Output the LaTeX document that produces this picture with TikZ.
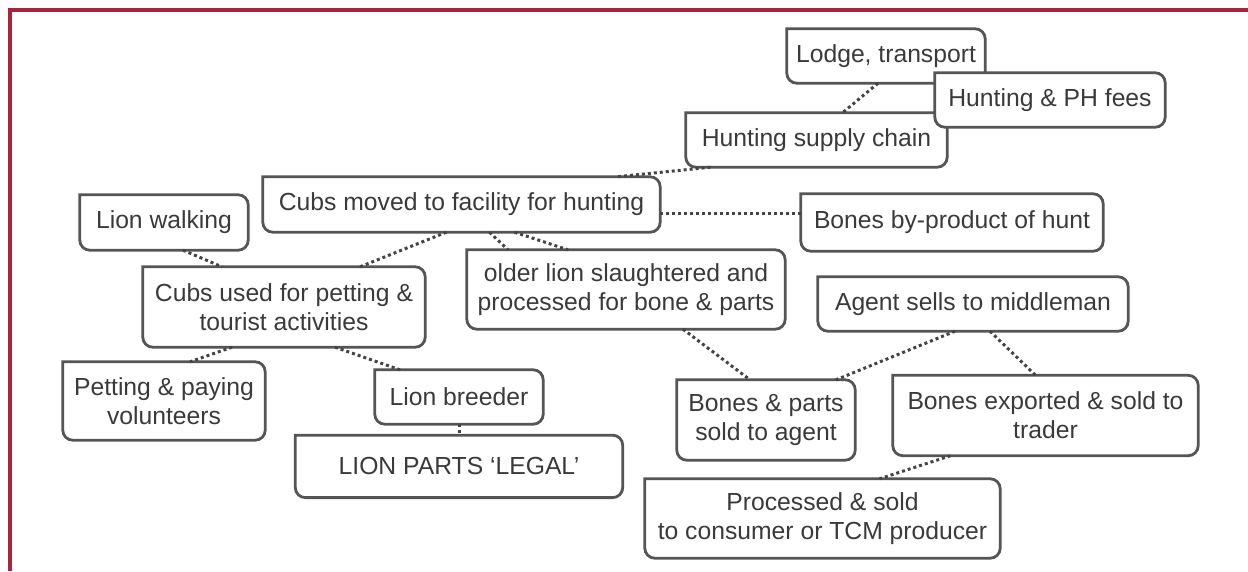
\documentclass[tikz,border=0pt]{standalone}
\usepackage{fontspec}
\setmainfont{Liberation Sans}
\usetikzlibrary{positioning, backgrounds}
\definecolor{framered}{HTML}{A8243A}
\definecolor{boxgray}{HTML}{555555}
\definecolor{txtgray}{HTML}{3A3A3A}
\definecolor{dotgray}{HTML}{444444}
\tikzset{
  box/.style      = {align=center, inner sep=0pt, text=txtgray,
                     font=\fontsize{24.7}{29}\selectfont},
  boxline/.style  = {draw=boxgray, fill=white, line width=2.8pt},
  link/.style     = {draw=dotgray, line width=3pt, dash pattern=on 3pt off 3pt},
  redframe/.style = {draw=framered, line width=4pt}
}

\begin{document}
\begin{tikzpicture}[x=1pt, y=-1pt]
  \useasboundingbox (0,0) rectangle (1248,571);
  \draw[redframe] (10,571) -- (10,10) -- (1248,10);

  \node[box, minimum width=198pt, minimum height=54pt] (lodge)      at (886,56)      {Lodge, transport};
  \node[box, minimum width=261pt, minimum height=54pt] (supply)     at (816.5,140)   {Hunting supply chain};
  \node[box, minimum width=230pt, minimum height=54pt] (fees)       at (1050,100)    {Hunting \& PH fees};
  \node[box, minimum width=397pt, minimum height=55pt] (facility)   at (461.5,204.5) {Cubs moved to facility for hunting};
  \node[box, minimum width=168pt, minimum height=55pt] (walking)    at (164,222.5)   {Lion walking};
  \node[box, minimum width=302pt, minimum height=57pt] (byproduct)  at (952,222.5)   {Bones by-product of hunt};
  \node[box, minimum width=282pt, minimum height=80pt] (petting)    at (284,307)     {Cubs used for petting \&\\tourist activities};
  \node[box, minimum width=202pt, minimum height=78pt] (volunteers) at (164,401)     {Petting \& paying\\volunteers};
  \node[box, minimum width=168pt, minimum height=54pt] (breeder)    at (459,397)     {Lion breeder};
  \node[box, minimum width=327pt, minimum height=62pt, below=11pt of breeder] (legal) {LION PARTS `LEGAL'};
  \node[box, minimum width=318pt, minimum height=79pt] (slaughter)  at (626,289.5)   {older lion slaughtered and\\processed for bone \& parts};
  \node[box, minimum width=310pt, minimum height=54pt] (agent)      at (973,304)     {Agent sells to middleman};
  \node[box, minimum width=178pt, minimum height=80pt] (parts)      at (766,420)     {Bones \& parts\\sold to agent};
  \node[box, minimum width=305pt, minimum height=80pt] (exported)   at (1045.5,415.5) {Bones exported \& sold to\\trader};
  \node[box, minimum width=355pt, minimum height=79pt] (processed)  at (822.5,518.5) {Processed \& sold\\to consumer or TCM producer};

  % outlines: square top-left corner, the rest rounded
  \begin{scope}[on background layer]
    \foreach \n in {lodge, supply, fees, facility, walking, byproduct, petting,
                    volunteers, breeder, legal, slaughter, agent, parts, exported, processed}
      \path[boxline] (\n.north) [rounded corners=10pt] -- (\n.north east) -- (\n.south east)
        -- (\n.south west) [sharp corners] -- (\n.north west) -- cycle;
  \end{scope}

  \draw[link] ([xshift=-8pt]lodge.south)     -- ([xshift=26pt]supply.north);
  \draw[link] ([xshift=-106pt]supply.south)  -- ([xshift=155pt]facility.north);
  \draw[link] ([yshift=-8.5pt]facility.east) -- ([yshift=9.5pt]byproduct.west);
  \draw[link] ([xshift=-15pt]facility.south) -- ([xshift=76pt]petting.north);
  \draw[link] ([xshift=28pt]facility.south)  -- ([xshift=-118pt]slaughter.north);
  \draw[link] ([xshift=53pt]facility.south)  -- ([xshift=-58pt]slaughter.north);
  \draw[link] ([xshift=19pt]walking.south)   -- ([xshift=-62pt]petting.north);
  \draw[link] ([xshift=-52pt]petting.south)  -- ([xshift=26pt]volunteers.north);
  \draw[link] ([xshift=51pt]petting.south)   -- ([xshift=-59pt]breeder.north);
  \draw[link] (breeder.south) -- (breeder.south |- legal.north);
  \draw[link] ([xshift=57pt]slaughter.south) -- ([xshift=-16pt]parts.north);
  \draw[link] ([xshift=-18pt]agent.south)    -- ([xshift=70pt]parts.north);
  \draw[link] ([xshift=17pt]agent.south)     -- ([xshift=-10pt]exported.north);
  \draw[link] ([xshift=-95pt]exported.south) -- ([xshift=57pt]processed.north);
\end{tikzpicture}
\end{document}
